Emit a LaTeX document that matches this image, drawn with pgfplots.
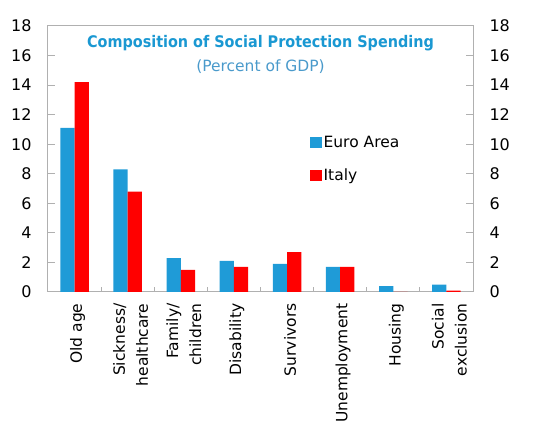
\documentclass[border=0pt]{standalone}
\usepackage{pgfplots}
\pgfplotsset{compat=1.18}
\usepackage{fontspec}
\setmainfont{DejaVu Sans}
\newfontfamily\condfont{DejaVu Sans Condensed}
\definecolor{eablue}{HTML}{1F9BD7}
\definecolor{itred}{HTML}{FF0000}
\definecolor{titleblue}{HTML}{1A98D2}
\definecolor{subblue}{HTML}{4A9ACB}
\definecolor{framegray}{HTML}{B0B0B0}
\begin{document}
\begin{tikzpicture}
\useasboundingbox (-48pt,-146pt) rectangle (492pt,292pt);
\begin{axis}[
  at={(0,0)}, anchor=south west,
  scale only axis, width=425pt, height=266pt,
  ybar=0pt, bar width=14.3pt,
  xmin=-0.5, xmax=7.5, ymin=0, ymax=18,
  ytick={0,2,...,18},
  xtick={0,...,7},
  xticklabels={Old age,Sickness/\\healthcare,Family/\\children,Disability,Survivors,Unemployment,Housing,Social\\exclusion},
  xticklabel style={rotate=90, anchor=east, align=right, font=\fontsize{15.5}{23}\selectfont, xshift=-8pt, yshift=-3pt},
  yticklabel style={font=\fontsize{16}{18}\selectfont, xshift=-13pt},
  /pgf/number format/assume math mode=true,
  minor xtick={0.5,1.5,...,6.5},
  major x tick style={draw=none},
  minor tick length=5pt, major tick length=7pt,
  tick align=inside,
  xtick pos=bottom, ytick pos=both, yticklabel pos=left,
  tick style={framegray, line width=1pt},
  axis line style={framegray, line width=1pt},
  legend style={at={(0.608,0.6)}, anchor=north west, draw=none, fill=none,
    font=\fontsize{15.5}{17}\selectfont, row sep=15pt,
    /tikz/every even column/.append style={column sep=6pt}},
  legend image code/.code={\fill[#1] (0pt,-5.5pt) rectangle (12pt,5.5pt);},
  legend cell align=left,
]
\addplot[fill=eablue, draw=none] coordinates {(0,11.1) (1,8.3) (2,2.3) (3,2.1) (4,1.9) (5,1.7) (6,0.4) (7,0.5)};
\addplot[fill=itred, draw=none] coordinates {(0,14.2) (1,6.8) (2,1.5) (3,1.7) (4,2.7) (5,1.7) (6,0) (7,0.1)};
\legend{Euro Area, Italy}
\node[font=\condfont\bfseries\fontsize{16}{18}\selectfont, text=titleblue] at (rel axis cs:0.5,0.934) {Composition of Social Protection Spending};
\node[font=\fontsize{15.5}{17}\selectfont, text=subblue] at (rel axis cs:0.5,0.848) {(Percent of GDP)};
\end{axis}
\begin{axis}[
  at={(0,0)}, anchor=south west,
  scale only axis, width=425pt, height=266pt,
  xmin=-0.5, xmax=7.5, ymin=0, ymax=18,
  ytick={0,2,...,18},
  axis y line*=right, axis x line=none,
  y axis line style={draw=none},
  major tick length=0pt,
  /pgf/number format/assume math mode=true,
  yticklabel style={font=\fontsize{16}{18}\selectfont, xshift=13pt},
]
\end{axis}
\end{tikzpicture}
\end{document}
